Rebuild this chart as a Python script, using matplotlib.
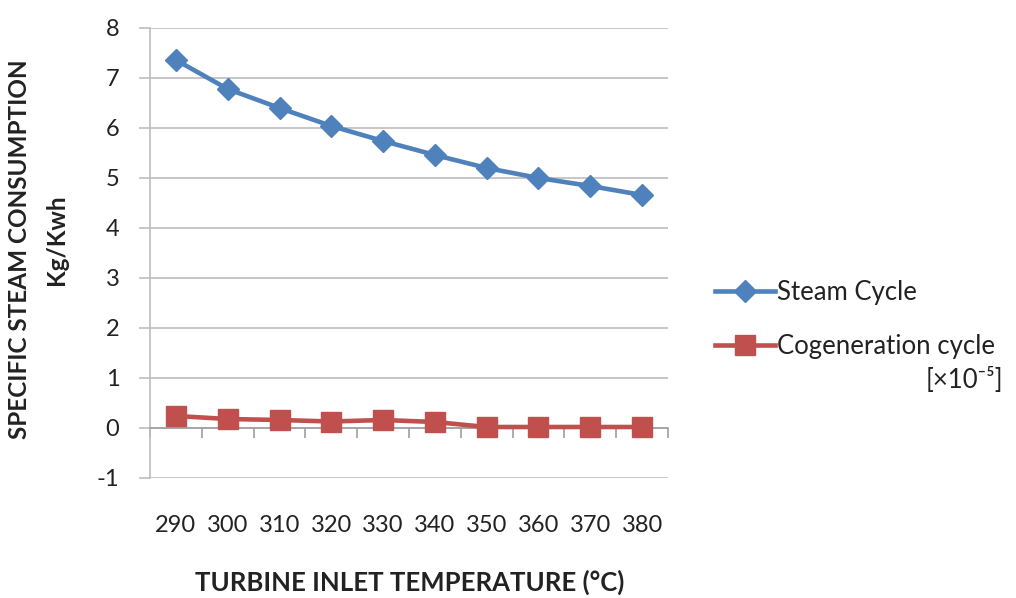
import numpy as np
import matplotlib
matplotlib.use("Agg")
import matplotlib.pyplot as plt

temps = [290, 300, 310, 320, 330, 340, 350, 360, 370, 380]
steam_cycle = [7.36, 6.78, 6.40, 6.04, 5.74, 5.46, 5.20, 5.00, 4.84, 4.66]
cogeneration_cycle = [0.24, 0.18, 0.16, 0.13, 0.16, 0.12, 0.02, 0.02, 0.02, 0.02]
y_ticks = [-1, 0, 1, 2, 3, 4, 5, 6, 7, 8]

plt.rcParams['font.family'] = ['Lato', 'DejaVu Sans']

fig = plt.figure(figsize=(10.16, 5.98), dpi=100)
ax = fig.add_axes([150/1016, 1-478/598, (668-150)/1016, (478-28)/598])

x = np.arange(len(temps))
blue = '#4F81BD'
red = '#C0504D'
grid_c = '#BEBEBE'

l1, = ax.plot(x, steam_cycle, color=blue, lw=3.3, marker='D', ms=11.5,
              label='Steam Cycle', zorder=3)
l2, = ax.plot(x, cogeneration_cycle, color=red, lw=3.3, marker='s', ms=14,
              label='Cogeneration cycle', zorder=3)

ax.set_xlim(-0.5, len(temps) - 0.5)
ax.set_ylim(-1, 8)
ax.set_yticks(y_ticks)
ax.set_yticklabels([str(v) for v in y_ticks], fontsize=17, color='#222222')
ax.yaxis.grid(True, color=grid_c, lw=1.2)
ax.set_axisbelow(True)
ax.tick_params(axis='y', length=8, width=1.2, color=grid_c, pad=14)

for s in ['top', 'right']:
    ax.spines[s].set_visible(False)
ax.spines['left'].set_color(grid_c)
ax.spines['left'].set_linewidth(1.2)
ax.spines['bottom'].set_position(('data', 0))
ax.spines['bottom'].set_color('#A0A0A0')
ax.spines['bottom'].set_linewidth(1.2)

ax.set_xticks(np.arange(-0.5, len(temps), 1.0))
ax.set_xticklabels([])
ax.tick_params(axis='x', which='major', length=7, width=1.2, color='#A0A0A0', direction='out')
ax.set_xticks(x, minor=True)
ax.set_xticklabels([str(t) for t in temps], minor=True, fontsize=17, color='#222222')
ax.tick_params(axis='x', which='minor', length=0, pad=63)

fig.text(410/1016, 1-582/598, 'TURBINE INLET TEMPERATURE (°C)', ha='center', va='center',
         fontsize=18.5, fontweight='bold', color='#222222')
fig.text(20/1016, 1-249/598, 'SPECIFIC STEAM CONSUMPTION', ha='center', va='center',
         rotation=90, fontsize=17.5, fontweight='bold', color='#222222')
fig.text(57/1016, 1-240/598, 'Kg/Kwh', ha='center', va='center',
         rotation=90, fontsize=17.5, fontweight='bold', color='#222222')

leg = fig.legend(handles=[l1, l2], loc='upper left', bbox_to_anchor=(715/1016, 1-280/598),
                 frameon=False, fontsize=18.5, handlelength=2.33, handletextpad=0.1,
                 labelspacing=1.13, labelcolor='#222222', borderpad=0, borderaxespad=0)
fig.text(1003/1016, 1-380/598, '[×10⁻⁵]', ha='right', va='center', fontsize=18.5,
         color='#222222', family=['Lato', 'DejaVu Sans'])

fig.savefig('out.png', dpi=100)
